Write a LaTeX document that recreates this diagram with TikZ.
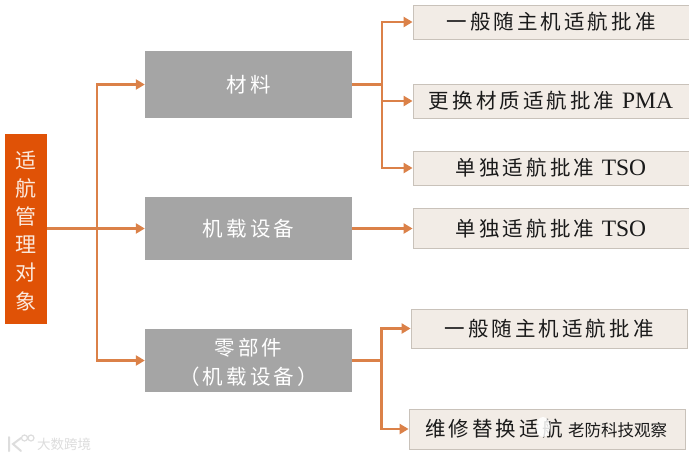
\documentclass[tikz,border=0pt]{standalone}
\usepackage{fontspec}
\usetikzlibrary{arrows.meta}
\setmainfont{Liberation Serif}
\newfontfamily\cjk[LetterSpace=15]{Noto Sans CJK SC}
\newfontfamily\cjkplain{Noto Sans CJK SC}
\newfontfamily\latinserif{Liberation Serif}
\definecolor{rootfill}{HTML}{E05206}
\definecolor{rootink}{HTML}{FBE9DD}
\definecolor{midfill}{HTML}{A5A5A5}
\definecolor{leaffill}{HTML}{F2ECE6}
\definecolor{leafline}{HTML}{C9C2BA}
\definecolor{linkcol}{HTML}{DB8148}
\definecolor{leafink}{HTML}{1A1A1A}
\definecolor{stampink}{HTML}{DDDDDD}
\newcommand{\lat}[1]{{\fontsize{23.5}{24}\latinserif #1}}
\tikzset{
  rootbox/.style={draw=none,fill=rootfill,text=rootink,minimum width=42pt,minimum height=190pt,inner sep=0pt,align=center,font=\fontsize{21}{28.2}\cjkplain},
  midbox/.style={draw=none,fill=midfill,text=white,minimum width=207pt,inner sep=0pt,align=center,font=\fontsize{20.5}{29.5}\cjk},
  leafbox/.style={draw=leafline,line width=0.8pt,fill=leaffill,text=leafink,minimum width=276pt,inner sep=0pt,font=\fontsize{20.5}{24}\cjk},
  link/.style={draw=linkcol,line width=2.3pt},
  arrowlink/.style={link,-{Triangle[length=9pt,width=10pt]}},
  stamp/.style={text=stampink,inner sep=0pt,font=\fontsize{13.5}{14}\cjkplain},
  overstamp/.style={text=leafink,inner sep=0pt,font=\fontsize{16.5}{18}\cjkplain}
}
\begin{document}
\begin{tikzpicture}[x=1pt,y=-1pt]
\useasboundingbox (0,0) rectangle (689,459);
\fill[white] (0,0) rectangle (689,459);
% boxes
\node[rootbox] (root) at (26,228.5) {\rule{0pt}{21.5pt}适\\航\\管\\理\\对\\象};
\node[midbox,minimum height=67pt] (mata) at (248.5,84.5) {材料};
\node[midbox,minimum height=63pt] (matb) at (248.5,228.5) {机载设备};
\node[midbox,minimum height=63pt] (matc) at (248.5,360.5) {\rule{0pt}{21pt}零部件\\（机载设备）};
\node[leafbox,minimum height=34pt] (r1) at (551,22) {一般随主机适航批准};
\node[leafbox,minimum height=34pt] (r2) at (551,101) {更换材质适航批准 \lat{PMA}};
\node[leafbox,minimum height=34pt] (r3) at (551,168) {单独适航批准 \lat{TSO}};
\node[leafbox,minimum height=40pt] (r4) at (551,228.5) {单独适航批准 \lat{TSO}};
\node[leafbox,minimum height=39pt] (r5) at (549,328.5) {一般随主机适航批准};
\node[leafbox,minimum height=40pt] (r6) at (547,429) {\makebox[276pt][l]{\hspace{16pt}维修替换适航}};
% junctions
\coordinate (ja) at (97,228.5);
\coordinate (jb) at (382,84.5);
\coordinate (jc) at (381.5,360.5);
% connectors
\draw[arrowlink] (root.east) -- (matb.west);
\draw[arrowlink] (ja) |- (mata.west);
\draw[arrowlink] (ja) |- (matc.west);
\draw[link] (mata.east) -- (jb);
\draw[arrowlink] (jb) |- (r1.west);
\draw[arrowlink] (jb) |- (r2.west);
\draw[arrowlink] (jb) |- (r3.west);
\draw[arrowlink] (matb.east) -- (r4.west);
\draw[link] (matc.east) -- (jc);
\draw[arrowlink] (jc) |- (r5.west);
\draw[arrowlink] (jc) |- (r6.west);
% watermarks
\node[stamp,anchor=west] (wma) at (37,444) {大数跨境};
\draw[stampink,line width=2pt,line cap=round] (9,437) -- (9,451) (21,438) -- (13,444) -- (21,451);
\draw[stampink,line width=1.2pt] (24.5,438) circle (3pt) (31,438) circle (3pt);
\fill[white,opacity=0.85] (543,427) ellipse (7pt and 10pt);
\node[overstamp,anchor=west] (wmb) at (568,430) {老防科技观察};
\end{tikzpicture}
\end{document}
